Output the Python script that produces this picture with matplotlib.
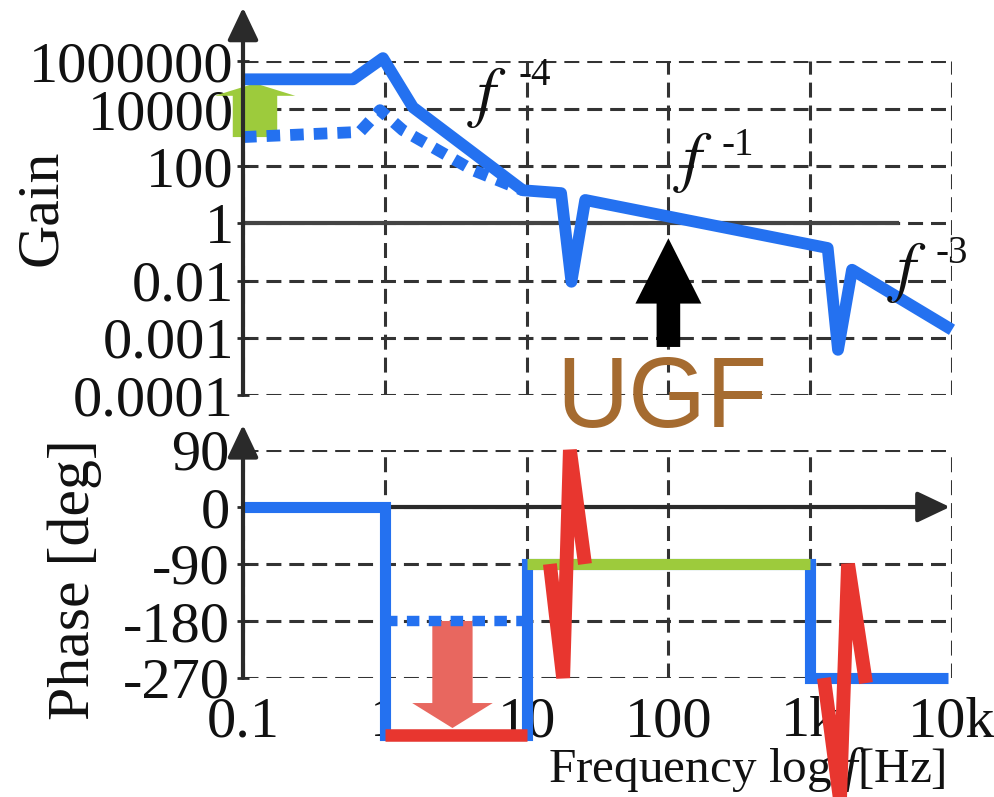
import matplotlib
matplotlib.use('Agg')
import matplotlib.pyplot as plt
from matplotlib.ticker import NullLocator, FixedLocator

# ---------------- data ----------------
freq_ticks = [0.1, 1, 10, 100, 1000, 10000]
freq_tick_labels = ['0.1', '1', '10', '100', '1k', '10k']

# gain axis is a schematic (non-uniform) scale: values are "grid levels"
gain_tick_levels = [0, 1, 2, 3, 4, 5, 5.84]
gain_tick_labels = ['0.0001', '0.001', '0.01', '1', '100', '10000', '1000000']
unity_gain_level = 3
unity_line_f = [0.1, 4093]

gain_solid_f = [0.1, 0.597, 0.97, 1.58, 9.4, 17.5, 20.7, 25.9, 1328, 1571, 1972, 10000]
gain_solid = [5.52, 5.52, 5.89, 5.03, 3.58, 3.53, 1.98, 3.41, 2.57, 0.79, 2.19, 1.14]

gain_dotted_f = [0.1, 0.668, 0.925, 1.34, 4.19, 9.4]
gain_dotted = [4.51, 4.60, 4.98, 4.63, 3.93, 3.58]

phase_ticks = [90, 0, -90, -180, -270]
phase_tick_labels = ['90', '0', '-90', '-180', '-270']
phase_solid_f = [0.1, 1, 1, 10, 10, 1000, 1000, 9300]
phase_solid = [0, 0, -360, -360, -90, -90, -270, -270]
phase_dotted_f = [1, 10]
phase_dotted = [-180, -180]
phase_red_f = [1, 10]
phase_red = [-360, -360]
phase_green_f = [10, 1000]
phase_green = [-90, -90]
spike1_f = [14.6, 18.1, 20.2, 25.8]
spike1 = [-90, -270, 90, -90]
spike2_f = [1250, 1622, 1849, 2473]
spike2 = [-270, -462, -90, -278]

ugf_f = 100
ugf_arrow = (0.84, 2.74)          # gain levels (tail, tip)
green_arrow_f = 0.1215
green_arrow = (4.51, 5.45)        # gain levels (tail, tip)
pink_arrow_f = 3
pink_arrow = (-180, -349)         # phase (tail, tip)

slope_labels = [
    # (f_pos, level, exponent_f, exponent_level, exponent)
    (5.26, 5.21, 11.5, 5.59, '-4'),
    (149, 4.07, 310, 4.37, '-1'),
    (4816, 2.15, 10000, 2.47, '-3'),
]

# ---------------- style ----------------
BLUE = '#2471F0'
GREEN = '#9DCB3C'
RED = '#E8362F'
PINK = '#E8675F'
BROWN = '#A56B30'
GRID = '#333333'
AXC = '#2a2a2a'

plt.rcParams['font.family'] = ['Liberation Serif', 'DejaVu Serif']
plt.rcParams['mathtext.fontset'] = 'custom'
plt.rcParams['mathtext.rm'] = 'Liberation Serif'
plt.rcParams['mathtext.it'] = 'Liberation Serif:italic'

W, H = 995, 797
fig = plt.figure(figsize=(W / 100, H / 100), dpi=100)


def px_rect(x0, x1, ytop, ybot):
    return [x0 / W, 1 - ybot / H, (x1 - x0) / W, (ybot - ytop) / H]


ax1 = fig.add_axes(px_rect(243, 952, 61, 395))
ax2 = fig.add_axes(px_rect(243, 952, 450, 678))

gridstyle = dict(color=GRID, lw=2.2, ls=(0, (4.9, 2.6)))
for ax in (ax1, ax2):
    ax.set_facecolor('none')
    ax.set_xscale('log')
    ax.set_xlim(0.1, 10000)
    ax.xaxis.set_major_locator(FixedLocator(freq_ticks))
    ax.xaxis.set_minor_locator(NullLocator())
    for s in ax.spines.values():
        s.set_visible(False)
    ax.grid(True, which='major', zorder=1, **gridstyle)
    ax.set_axisbelow(True)

# --- top: gain ---
ax1.set_ylim(0, 5.84)
ax1.set_yticks(gain_tick_levels)
ax1.set_yticklabels(gain_tick_labels)
ax1.tick_params(axis='x', length=0, labelbottom=False)
ax1.tick_params(axis='y', direction='inout', length=9, width=2, color=AXC,
                labelsize=42, pad=2, labelcolor='#111111')

ax1.plot(unity_line_f, [unity_gain_level] * 2, color='#444444', lw=3, zorder=2)

ax1.annotate('', xy=(green_arrow_f, green_arrow[1]), xytext=(green_arrow_f, green_arrow[0]),
             arrowprops=dict(arrowstyle='simple,head_length=0.9,head_width=5.8,tail_width=3.2',
                             mutation_scale=10, fc=GREEN, ec='none', lw=0, shrinkA=0, shrinkB=0),
             annotation_clip=False, zorder=3)

ax1.plot(gain_dotted_f, gain_dotted, color=BLUE, lw=8.5, ls=(0, (1.15, 0.85)),
         dash_capstyle='butt', solid_joinstyle='round', zorder=5, clip_on=False)
ax1.plot(gain_solid_f, gain_solid, color=BLUE, lw=8.5, solid_joinstyle='round',
         solid_capstyle='butt', zorder=5, clip_on=False)

ax1.annotate('', xy=(ugf_f, ugf_arrow[1]), xytext=(ugf_f, ugf_arrow[0]),
             arrowprops=dict(arrowstyle='simple,head_length=4.7,head_width=4.75,tail_width=1.7',
                             mutation_scale=10, fc='black', ec='none', lw=0, shrinkA=0, shrinkB=0),
             annotation_clip=False, zorder=4)
ax1.text(90, -0.1, 'UGF', fontsize=72, family=['Liberation Sans', 'DejaVu Sans'],
         color=BROWN, ha='center', va='center', zorder=4, clip_on=False)

for fx, fl, ex, el, e in slope_labels:
    ax1.text(fx, fl, r'$f$', fontsize=48, math_fontfamily='stix', ha='center', va='center',
             color='#111111', zorder=6, clip_on=False)
    ax1.text(ex, el, e, fontsize=28, ha='center', va='center', color='#111111',
             zorder=6, clip_on=False)

ax1.annotate('', xy=(0, 1.16), xytext=(0, 0), xycoords='axes fraction',
             arrowprops=dict(arrowstyle='-|>,head_length=2.0,head_width=0.95',
                             mutation_scale=10, lw=3, color=AXC, shrinkA=0, shrinkB=0),
             annotation_clip=False, zorder=7)

# --- bottom: phase ---
ax2.set_ylim(-270, 90)
ax2.set_yticks(phase_ticks)
ax2.set_yticklabels(phase_tick_labels)
ax2.set_xticklabels(freq_tick_labels)
ax2.tick_params(axis='x', length=0, labelsize=42, pad=13, labelcolor='#111111')
ax2.tick_params(axis='y', direction='inout', length=9, width=2, color=AXC,
                labelsize=42, pad=5, labelcolor='#111111')

ax2.annotate('', xy=(0.997, 0), xytext=(0, 0), xycoords=('axes fraction', 'data'),
             arrowprops=dict(arrowstyle='-|>,head_length=2.0,head_width=0.95',
                             mutation_scale=10, lw=3, color=AXC, shrinkA=0, shrinkB=0),
             annotation_clip=False, zorder=2)
ax2.annotate('', xy=(0, 1.11), xytext=(0, 0), xycoords='axes fraction',
             arrowprops=dict(arrowstyle='-|>,head_length=2.0,head_width=0.95',
                             mutation_scale=10, lw=3, color=AXC, shrinkA=0, shrinkB=0),
             annotation_clip=False, zorder=7)

ax2.annotate('', xy=(pink_arrow_f, pink_arrow[1]), xytext=(pink_arrow_f, pink_arrow[0]),
             arrowprops=dict(arrowstyle='simple,head_length=1.8,head_width=5.8,tail_width=2.9',
                             mutation_scale=10, fc=PINK, ec='none', lw=0, shrinkA=0, shrinkB=0),
             annotation_clip=False, zorder=3)

ax2.plot(phase_solid_f, phase_solid, color=BLUE, lw=8, solid_joinstyle='miter',
         solid_capstyle='butt', zorder=4, clip_on=False)
ax2.plot(phase_dotted_f, phase_dotted, color=BLUE, lw=7.5, ls=(0, (1.2, 0.9)),
         dash_capstyle='butt', zorder=4, clip_on=False)
ax2.plot(phase_red_f, phase_red, color=RED, lw=9, solid_capstyle='butt', zorder=5, clip_on=False)
ax2.plot(phase_green_f, phase_green, color=GREEN, lw=8, solid_capstyle='butt', zorder=5, clip_on=False)
ax2.plot(spike1_f, spike1, color=RED, lw=10, solid_joinstyle='bevel', solid_capstyle='butt',
         zorder=6, clip_on=False)
ax2.plot(spike2_f, spike2, color=RED, lw=10, solid_joinstyle='bevel', solid_capstyle='butt',
         zorder=6, clip_on=False)

# --- axis labels ---
ax2.text(747 / W, 1 - 770 / H, r'Frequency log $f$[Hz]', transform=fig.transFigure,
         fontsize=35.5, ha='center', va='center', color='#111111', zorder=1)
fig.text(42 / W, 1 - 208 / H, 'Gain', rotation=90, fontsize=43, ha='center', va='center',
         color='#111111')
fig.text(75 / W, 1 - 580 / H, 'Phase [deg]', rotation=90, fontsize=43, ha='center',
         va='center', color='#111111')

fig.savefig('out.png', dpi=100)
